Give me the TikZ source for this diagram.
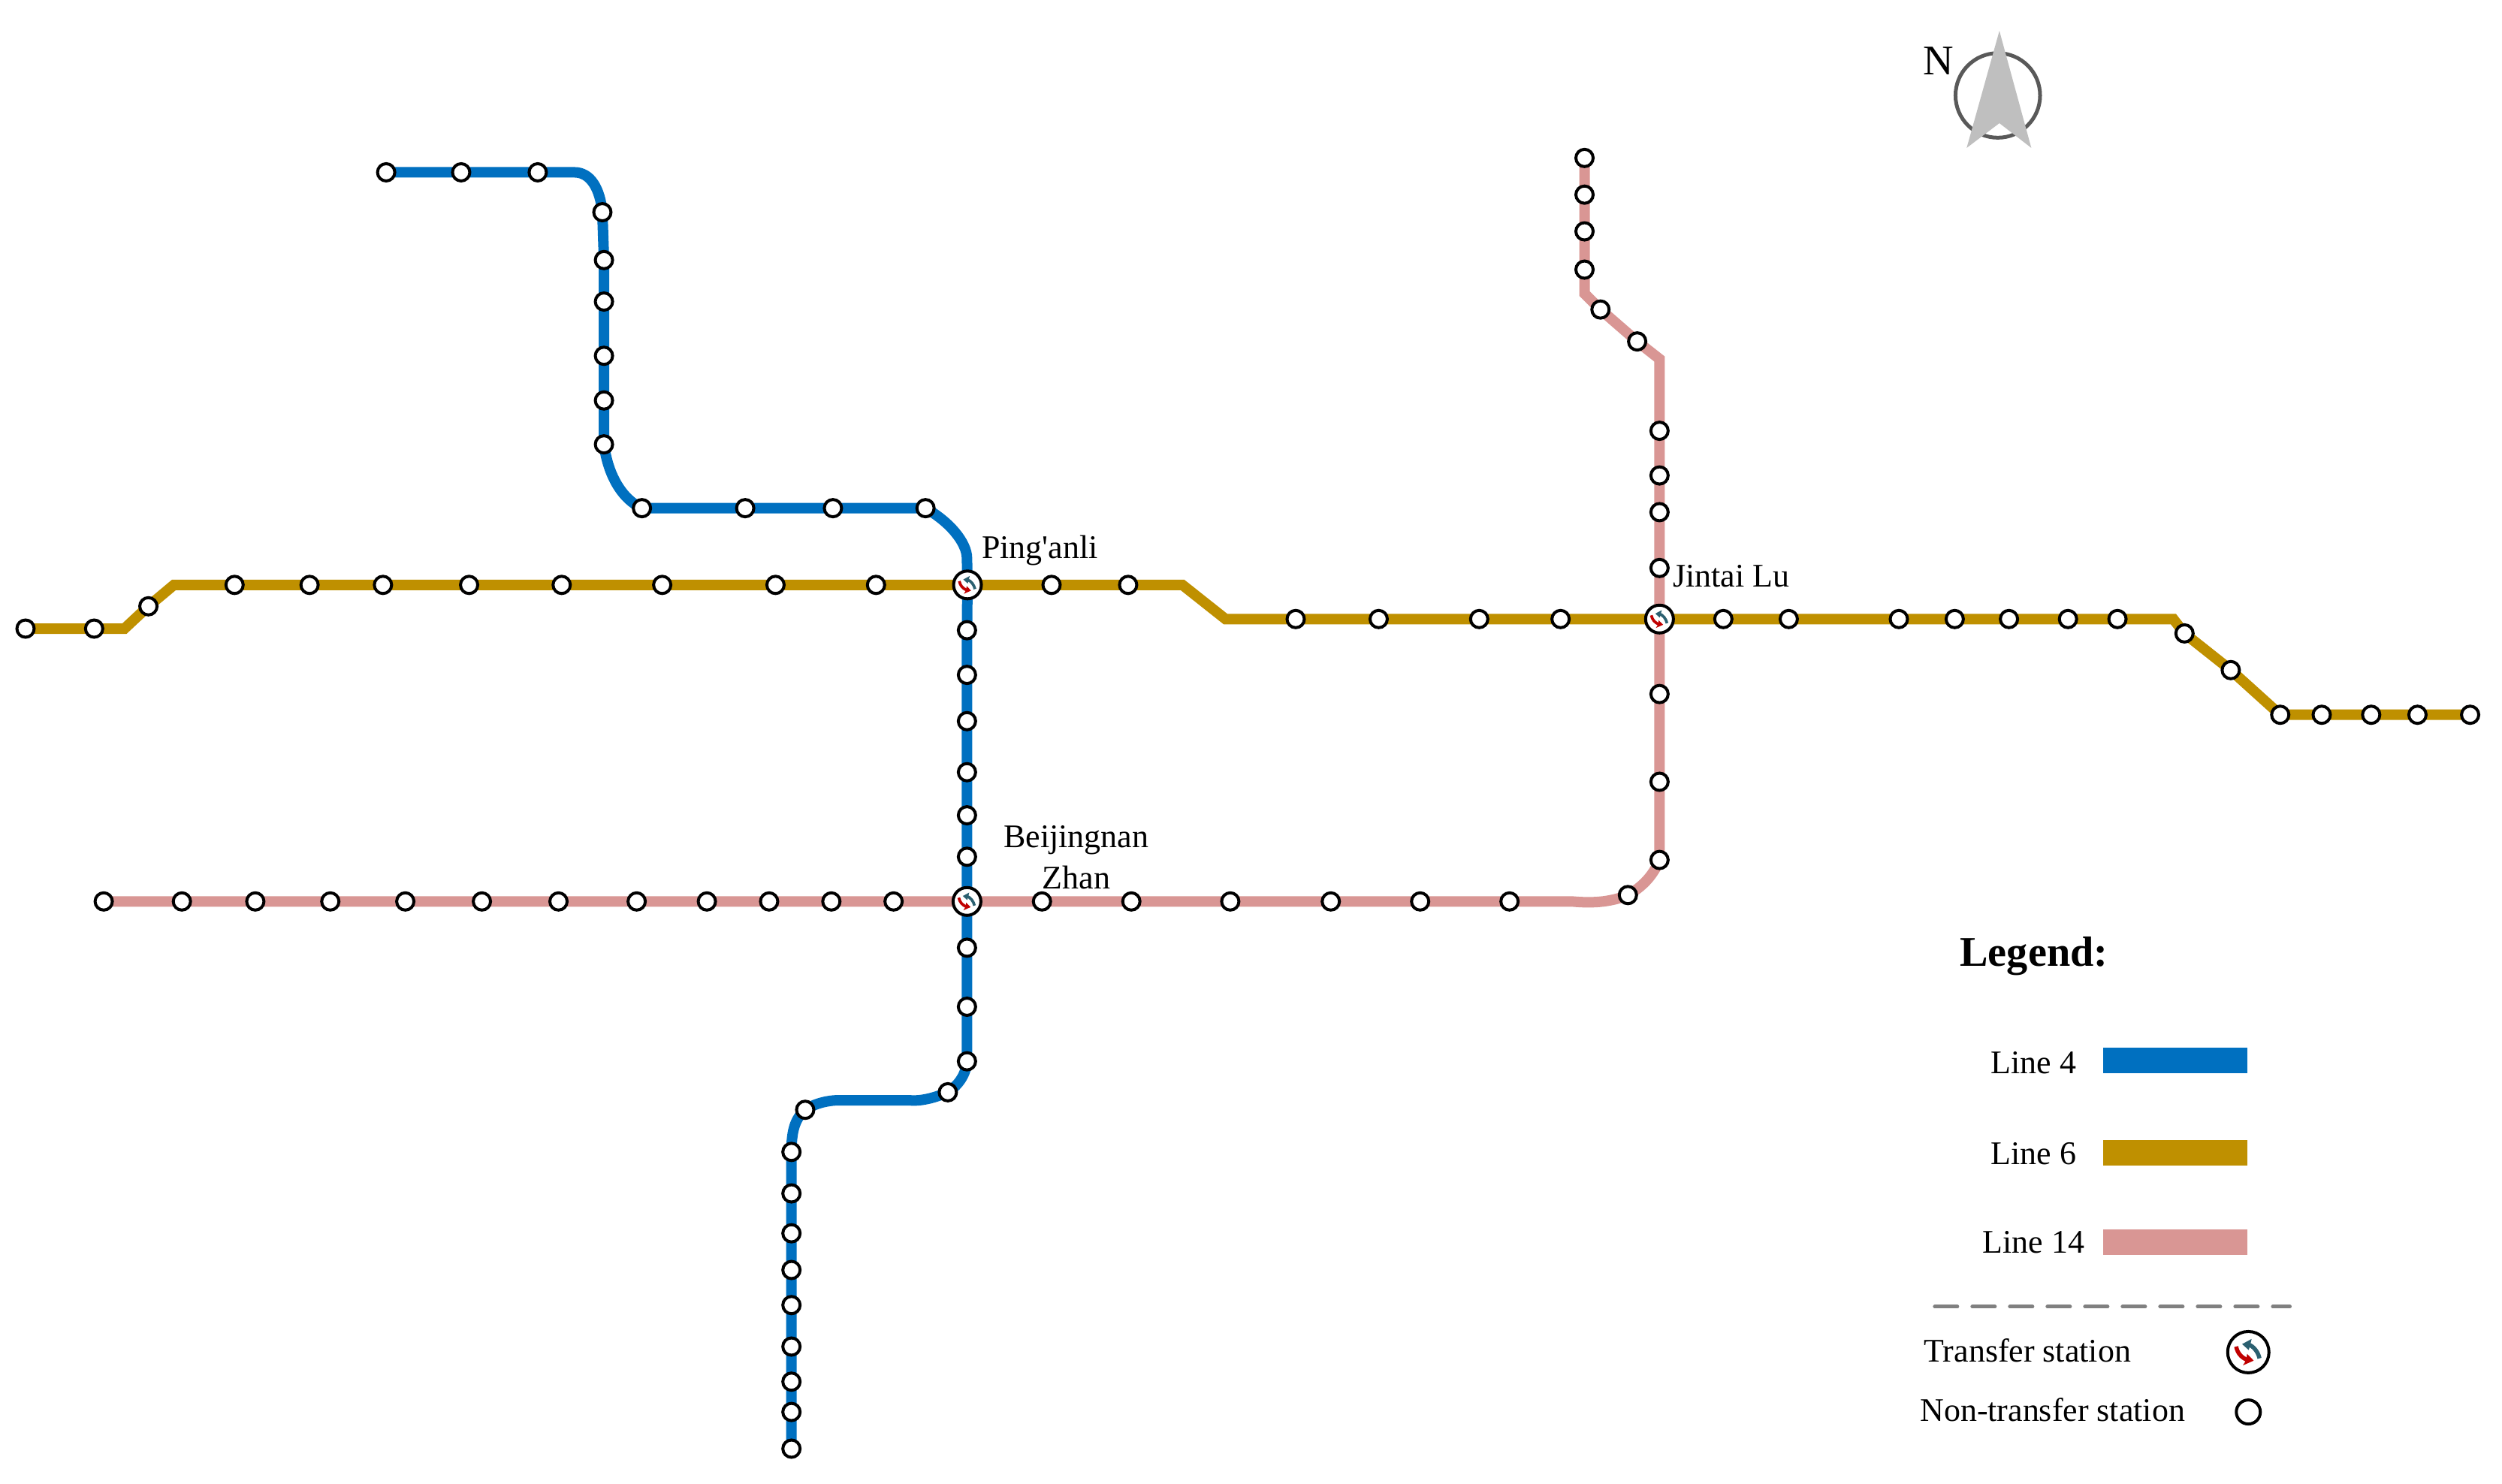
\documentclass[tikz,border=0pt]{standalone}
\usepackage{fontspec}
\newfontfamily\mapfont{Liberation Serif}
\usetikzlibrary{backgrounds}
\definecolor{lineblue}{HTML}{0070C0}
\definecolor{linegold}{HTML}{BF9000}
\definecolor{linepink}{HTML}{D99694}
\definecolor{arrowteal}{HTML}{2B6070}
\definecolor{arrowred}{HTML}{C00000}
\tikzset{
    station/.style={circle,draw=black,fill=white,line width=0.04cm,inner sep=0pt,minimum size=#1},
    station/.default=0.23cm,
    transfer/.style={circle,draw=black,fill=white,line width=0.04cm,inner sep=0pt,minimum size=2*#1,
        path picture={
            \begin{scope}[shift={(path picture bounding box.center)},x=#1,y=#1]
                \draw[arrowteal,line width=0.2*#1] (0.54,-0.3) .. controls (0.48,0) and (0.25,0.3) .. (0,0.37);
                \fill[arrowteal] (-0.3,0.39) -- (0.16,0.64) -- (0.1,0.38) -- (0.02,0.1) -- cycle;
                \draw[arrowred,line width=0.2*#1] (-0.59,0.27) .. controls (-0.52,-0.05) and (-0.35,-0.25) .. (-0.05,-0.38);
                \fill[arrowred] (0.26,-0.41) -- (-0.06,-0.08) -- (-0.1,-0.38) -- (-0.26,-0.64) -- cycle;
            \end{scope}
        }},
    maptext/.style={font=\mapfont\fontsize{12.5}{15.6}\selectfont,inner sep=0pt},
    metro/.style={line width=0.14cm},
}
\begin{document}
\begin{tikzpicture}[x=0.021244cm,y=-0.021244cm]
    \useasboundingbox (0,0) rectangle (1568,929.7);
    % stations of line 4
    \foreach \x/\y [count=\i] in {242/108,289/108,337/108,377.5/133,378.5/163,378.5/189,378.5/223,378.5/251,378.5/278.5,
        402.3/318.5,467/318.5,522/318.5,580/318.5,606/395,606/423,606/452,606/484,606/511,606/537,606/594,606/631,606/665.2,
        594/684.6,504.6/695.6,496/722,496/748,496/773,496/796,496/818,496/844,496/866,496/885,496/908}
        \node[station] (la\i) at (\x,\y) {};
    % stations of line 6
    \foreach \x/\y [count=\i] in {16/394,59/394,93/380,147/366.6,194/366.6,240/366.6,294/366.6,352/366.6,415/366.6,486/366.6,549/366.6,
        659/366.6,707/366.6,812/388,864/388,927/388,978/388,1080/388,1121/388,1190/388,1225/388,1259/388,1296/388,1327/388,
        1369/397,1398/420,1429/448,1455/448,1486/448,1515/448,1548/448}
        \node[station] (lb\i) at (\x,\y) {};
    % stations of line 14
    \foreach \x/\y [count=\i] in {993/99,993/122,993/145,993/169,1003/194,1026/214,1040/270,1040/298,1040/321,1040/356,
        1040/435,1040/490,1040/539,1020.2/561,946/565,890/565,834/565,771/565,709/565,653/565,560/565,521/565,482/565,
        443/565,399/565,350/565,302/565,254/565,207/565,160/565,114/565,65/565}
        \node[station] (lc\i) at (\x,\y) {};
    % transfer stations
    \node[transfer=0.185cm] (pingan) at (606.3,366.6) {};
    \node[transfer=0.185cm] (jintai) at (1040,388) {};
    \node[transfer=0.185cm] (beijingnan) at (606,565) {};
    % bends
    \coordinate (bendb1) at (78,394);
    \coordinate (bendb2) at (109,366.6);
    \coordinate (bendb3) at (741,366.6);
    \coordinate (bendb4) at (768,388);
    \coordinate (bendb5) at (1362,388);
    \coordinate (bendc1) at (993,184);
    \coordinate (bendc2) at (1040,225);
    \coordinate (bendc3) at (985,565);
    \coordinate (benda1) at (360,108);
    \coordinate (benda2) at (606,350);
    \coordinate (benda3) at (569.6,689.6);
    \coordinate (benda4) at (526.3,689.6);
    % lines
    \begin{scope}[on background layer]
        \draw[metro,linegold] (lb1.center) -- (lb2.center) -- (bendb1) -- (lb3.center) -- (bendb2)
            \foreach \i in {4,...,11} {-- (lb\i.center)} -- (pingan.center) -- (lb12.center) -- (lb13.center)
            -- (bendb3) -- (bendb4) \foreach \i in {14,...,17} {-- (lb\i.center)} -- (jintai.center)
            \foreach \i in {18,...,24} {-- (lb\i.center)} -- (bendb5)
            \foreach \i in {25,...,31} {-- (lb\i.center)};
        \draw[metro,linepink] (lc1.center) \foreach \i in {2,3,4} {-- (lc\i.center)} -- (bendc1) -- (lc5.center) -- (lc6.center)
            -- (bendc2) \foreach \i in {7,...,10} {-- (lc\i.center)} -- (jintai.center)
            \foreach \i in {11,12,13} {-- (lc\i.center)}
            .. controls (1036,549) and (1029,556) .. (lc14.center)
            .. controls (1008,566) and (996,566) .. (bendc3)
            \foreach \i in {15,...,20} {-- (lc\i.center)} -- (beijingnan.center)
            \foreach \i in {21,...,32} {-- (lc\i.center)};
        \draw[metro,lineblue] (la1.center) -- (la2.center) -- (la3.center) -- (benda1)
            .. controls (370,108) and (376,118) .. (la4.center)
            \foreach \i in {5,...,9} {-- (la\i.center)}
            .. controls (381,298) and (390,313) .. (la10.center)
            \foreach \i in {11,12,13} {-- (la\i.center)}
            .. controls (595,327) and (606,340) .. (benda2) -- (pingan.center)
            \foreach \i in {14,...,19} {-- (la\i.center)} -- (beijingnan.center)
            \foreach \i in {20,21,22} {-- (la\i.center)}
            .. controls (605.5,673) and (601,680) .. (la23.center)
            .. controls (587,687.5) and (578,690.5) .. (benda3) -- (benda4)
            .. controls (518,689.6) and (510,692) .. (la24.center)
            .. controls (498.5,701) and (496,708) .. (la25.center)
            \foreach \i in {26,...,33} {-- (la\i.center)};
    \end{scope}
    % names of the transfer stations
    \node[maptext,anchor=base west] (pinganname) at (615,350) {Ping'anli};
    \node[maptext,anchor=base west] (jintainame) at (1048,368) {Jintai Lu};
    \node[maptext,anchor=base,align=center] (beijingnanname) at (674.5,557) {Beijingnan\\Zhan};
    % north arrow
    \draw[color=black!65,line width=0.05cm] (1252,59.8) circle (26.5);
    \fill[black!25] (1253,19.3) -- (1273,92.7) -- (1253,77.2) -- (1232.5,92.7) -- cycle;
    \node[font=\mapfont\fontsize{16}{19}\selectfont,inner sep=0pt] (north) at (1215,38) {N};
    % legend
    \node[font=\mapfont\fontsize{16}{19}\selectfont\bfseries,inner sep=0pt,anchor=base west] (legend) at (1228,605.5) {Legend:};
    \node[maptext,anchor=base] (namea) at (1274.5,673) {Line 4};
    \node[maptext,anchor=base] (nameb) at (1274.5,730) {Line 6};
    \node[maptext,anchor=base] (namec) at (1274.5,785.5) {Line 14};
    \fill[lineblue] (1318,656.5) rectangle (1408.5,672.5);
    \fill[linegold] (1318,714.5) rectangle (1408.5,730.5);
    \fill[linepink] (1318,770.5) rectangle (1408.5,786.5);
    \draw[black!50,line width=0.05cm,line cap=round,dash pattern=on 0.30cm off 0.20cm] (1212.5,819) -- (1435,819);
    \node[maptext,anchor=base west] (nametransfer) at (1205.5,853.5) {Transfer station};
    \node[maptext,anchor=base west] (namestation) at (1203,891) {Non-transfer station};
    \node[transfer=0.275cm] (keytransfer) at (1409,847.5) {};
    \node[station=0.32cm] (keystation) at (1409,885) {};
\end{tikzpicture}
\end{document}
